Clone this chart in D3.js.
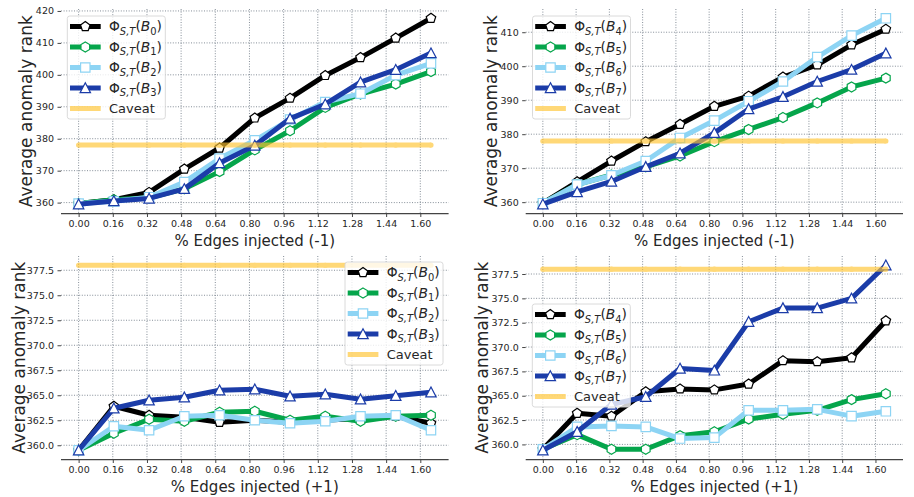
<!DOCTYPE html>
<html lang="en">
<head>
<meta charset="UTF-8">
<title>Average anomaly rank vs edges injected</title>
<style>
  body { margin: 0; background: #fff; }
  svg { display: block; font-family: "DejaVu Sans", sans-serif; }
</style>
</head>
<body>
<script src="https://d3js.org/d3.v7.min.js"></script>
<div id="chart"></div>
<script>
// x positions of the points and the tick labels
const xVals = [0.000, 0.165, 0.330, 0.495, 0.660, 0.825, 0.990, 1.155, 1.320, 1.485, 1.650];
const xTicks = [0.00, 0.16, 0.32, 0.48, 0.64, 0.80, 0.96, 1.12, 1.28, 1.44, 1.60];

// top-left, removing edges (-1)
const tlB0 = [359.7, 360.9, 363.2, 370.5, 377.1, 386.5, 392.7, 399.8, 405.4, 411.5, 417.7];
const tlB1 = [359.7, 360.9, 361.5, 364.3, 369.7, 376.5, 382.5, 389.8, 394.0, 397.1, 401.0];
const tlB2 = [359.7, 360.4, 361.7, 366.4, 373.8, 379.5, 386.0, 391.5, 394.1, 399.9, 403.6];
const tlB3 = [359.5, 360.5, 361.3, 364.3, 372.4, 377.9, 386.3, 390.8, 397.7, 401.6, 406.8];

// top-right
const trB4 = [359.7, 366.0, 372.1, 377.8, 382.9, 388.2, 391.2, 396.8, 400.4, 406.3, 410.9];
const trB5 = [359.7, 365.2, 368.0, 370.4, 373.6, 377.8, 381.4, 384.9, 389.2, 393.9, 396.5];
const trB6 = [359.7, 365.2, 367.9, 372.1, 378.9, 384.0, 389.7, 395.5, 402.7, 409.0, 414.1];
const trB7 = [359.4, 363.0, 366.1, 370.4, 374.4, 380.4, 387.4, 391.0, 395.5, 399.0, 403.8];

// bottom-left, adding edges (+1)
const blB0 = [359.5, 363.9, 363.0, 362.8, 362.3, 362.5, 362.3, 362.5, 362.7, 362.9, 362.2];
const blB1 = [359.5, 361.2, 362.6, 362.4, 363.3, 363.4, 362.5, 362.9, 362.4, 362.9, 363.0];
const blB2 = [359.5, 361.9, 361.5, 362.9, 363.0, 362.5, 362.2, 362.4, 362.9, 363.0, 361.5];
const blB3 = [359.5, 363.7, 364.5, 364.8, 365.5, 365.6, 364.9, 365.1, 364.6, 364.95, 365.3];

// bottom-right
const brB4 = [359.5, 363.2, 362.9, 365.4, 365.7, 365.6, 366.2, 368.6, 368.5, 368.9, 372.7];
const brB5 = [359.5, 361.0, 359.5, 359.5, 360.9, 361.3, 362.6, 363.1, 363.5, 364.6, 365.2];
const brB6 = [359.5, 361.8, 361.9, 361.8, 360.6, 360.7, 363.5, 363.5, 363.6, 362.9, 363.4];
const brB7 = [359.4, 361.3, 364.1, 364.9, 367.8, 367.6, 372.6, 374.0, 374.0, 375.0, 378.4];

const caveat = [378, 378, 378, 378, 378, 378, 378, 378, 378, 378, 378];

const yTicksTL = [360, 370, 380, 390, 400, 410, 420];
const yTicksTR = [360, 370, 380, 390, 400, 410];
const yTicksBottom = [360, 362.5, 365, 367.5, 370, 372.5, 375, 377.5];

const colors = { black: "#000000", green: "#05a54b", light: "#8dd4f4", blue: "#1b3ca8", caveat: "#ffc430" };

const svg = d3.select("#chart").append("svg")
    .attr("width", 914)
    .attr("height", 497);

// regular polygon marker, one vertex pointing up
function polygon(n, r) {
    const pts = d3.range(n).map(i => {
        const a = -Math.PI / 2 + i * 2 * Math.PI / n;
        return [r * Math.cos(a), r * Math.sin(a)];
    });
    return "M" + pts.map(p => p.join(",")).join("L") + "Z";
}
const markers = {
    pentagon: polygon(5, 5.0),
    hexagon: polygon(6, 5.0),
    square: "M-4.7,-4.7L4.7,-4.7L4.7,4.7L-4.7,4.7Z",
    triangle: "M0,-5.2L-5.2,4.6L5.2,4.6Z"
};

// Φ_{S,T}(B_k) as svg text
function mathLabel(sel, k) {
    sel.append("tspan").text("Φ");
    sel.append("tspan").attr("font-size", "72%").attr("font-style", "italic").attr("dy", 3.5).text("S,T");
    sel.append("tspan").attr("dy", -3.5).text("(");
    sel.append("tspan").attr("font-style", "italic").text("B");
    sel.append("tspan").attr("font-size", "72%").attr("dy", 3.5).text(k);
    sel.append("tspan").attr("dy", -3.5).text(")");
}

function drawPanel(p) {
    const x = d3.scaleLinear()
        .domain([-0.0825, 1.7325])
        .range([p.left, p.right]);

    const all = p.series.flatMap(s => s.values).concat(caveat);
    const ext = d3.extent(all);
    const pad = (ext[1] - ext[0]) * 0.05;
    const y = d3.scaleLinear()
        .domain([ext[0] - pad, ext[1] + pad])
        .range([p.bottom, p.top]);

    const g = svg.append("g");

    // grid
    g.append("g").selectAll("line").data(p.yTicks).enter().append("line")
        .attr("x1", p.left).attr("x2", p.right)
        .attr("y1", d => y(d)).attr("y2", d => y(d))
        .attr("stroke", "#66717d").attr("stroke-width", 0.8)
        .attr("stroke-dasharray", "1,1.6");
    g.append("g").selectAll("line").data(xTicks).enter().append("line")
        .attr("x1", d => x(d)).attr("x2", d => x(d))
        .attr("y1", p.top).attr("y2", p.bottom)
        .attr("stroke", "#66717d").attr("stroke-width", 0.8)
        .attr("stroke-dasharray", "1,1.6");

    // axes
    const xAxis = g.append("g")
        .attr("transform", `translate(0,${p.bottom})`)
        .call(d3.axisBottom(x).tickValues(xTicks).tickFormat(d3.format(".2f")).tickSize(3.5).tickPadding(3));
    xAxis.select(".domain").attr("d", `M${p.left},0H${p.right}`).attr("stroke", "#444").attr("stroke-width", 1.25);
    xAxis.selectAll(".tick line").attr("stroke", "#444");
    xAxis.selectAll("text").attr("font-size", 9.5).attr("fill", "#262626").attr("font-family", "DejaVu Sans");

    const yAxis = g.append("g")
        .attr("transform", `translate(${p.left},0)`)
        .call(d3.axisLeft(y).tickValues(p.yTicks).tickFormat(d3.format(p.yFmt)).tickSize(3.5).tickPadding(3.5));
    yAxis.select(".domain").remove();
    yAxis.selectAll(".tick line").attr("stroke", "#444");
    yAxis.selectAll("text").attr("font-size", 9.5).attr("fill", "#262626").attr("font-family", "DejaVu Sans");

    // axis titles
    g.append("text")
        .attr("transform", `translate(${p.ylabelX},${(p.top + p.bottom) / 2}) rotate(-90)`)
        .attr("text-anchor", "middle")
        .attr("font-size", 17)
        .attr("fill", "#262626")
        .text("Average anomaly rank");
    g.append("text")
        .attr("x", (p.left + p.right) / 2)
        .attr("y", p.bottom + 32)
        .attr("text-anchor", "middle")
        .attr("font-size", 15)
        .attr("fill", "#262626")
        .text(p.xlabel);

    const line = d3.line()
        .x((d, i) => x(xVals[i]))
        .y(d => y(d));

    p.series.forEach(s => {
        g.append("path")
            .datum(s.values)
            .attr("d", line)
            .attr("fill", "none")
            .attr("stroke", s.color)
            .attr("stroke-width", 5)
            .attr("stroke-linejoin", "round");
        g.append("g").selectAll("path").data(s.values).enter().append("path")
            .attr("d", markers[s.marker])
            .attr("transform", (d, i) => `translate(${x(xVals[i])},${y(d)})`)
            .attr("fill", "#fff")
            .attr("stroke", s.color)
            .attr("stroke-width", 1.2);
    });

    // caveat line
    const cv = g.append("g").attr("opacity", 0.65);
    cv.append("path")
        .datum(caveat)
        .attr("d", line)
        .attr("fill", "none")
        .attr("stroke", colors.caveat)
        .attr("stroke-width", 5);
    cv.selectAll("circle").data(caveat).enter().append("circle")
        .attr("cx", (d, i) => x(xVals[i]))
        .attr("cy", d => y(d))
        .attr("r", 2.6)
        .attr("fill", colors.caveat);

    // legend
    const lg = g.append("g").attr("transform", `translate(${p.legendX},${p.legendY})`);
    lg.append("rect")
        .attr("width", 98).attr("height", 103)
        .attr("rx", 2.5)
        .attr("fill", "#fff").attr("fill-opacity", 0.8)
        .attr("stroke", "#d6d6d6").attr("stroke-width", 0.9);

    p.series.forEach((s, i) => {
        const ry = 10.5 + i * 20.5;
        lg.append("line")
            .attr("x1", 2.7).attr("x2", 33.4)
            .attr("y1", ry).attr("y2", ry)
            .attr("stroke", s.color).attr("stroke-width", 5);
        lg.append("path")
            .attr("d", markers[s.marker])
            .attr("transform", `translate(18,${ry})`)
            .attr("fill", "#fff").attr("stroke", s.color).attr("stroke-width", 1.2);
        const t = lg.append("text")
            .attr("x", 41.7).attr("y", ry)
            .attr("dy", "0.35em")
            .attr("font-size", 13.8)
            .attr("fill", "#262626");
        mathLabel(t, s.k);
    });
    const cy = 10.5 + 4 * 20.5;
    const cg = lg.append("g").attr("opacity", 0.65);
    cg.append("line")
        .attr("x1", 2.7).attr("x2", 33.4)
        .attr("y1", cy).attr("y2", cy)
        .attr("stroke", colors.caveat).attr("stroke-width", 5);
    cg.append("circle").attr("cx", 18).attr("cy", cy).attr("r", 2.6).attr("fill", colors.caveat);
    lg.append("text")
        .attr("x", 41.7).attr("y", cy)
        .attr("dy", "0.35em")
        .attr("font-size", 13)
        .attr("fill", "#262626")
        .text("Caveat");
}

function seriesSet(vals, ks) {
    const cols = [colors.black, colors.green, colors.light, colors.blue];
    const mks = ["pentagon", "hexagon", "square", "triangle"];
    return vals.map((v, i) => ({ values: v, color: cols[i], marker: mks[i], k: ks[i] }));
}

drawPanel({
    left: 61, right: 448.6, top: 9, bottom: 213.5,
    series: seriesSet([tlB0, tlB1, tlB2, tlB3], ["0", "1", "2", "3"]),
    yTicks: yTicksTL, yFmt: "d", ylabelX: 32,
    xlabel: "% Edges injected (-1)",
    legendX: 67.3, legendY: 16
});
drawPanel({
    left: 525.7, right: 903, top: 9, bottom: 213.5,
    series: seriesSet([trB4, trB5, trB6, trB7], ["4", "5", "6", "7"]),
    yTicks: yTicksTR, yFmt: "d", ylabelX: 497,
    xlabel: "% Edges injected (-1)",
    legendX: 532.5, legendY: 16
});
drawPanel({
    left: 61, right: 448.6, top: 256, bottom: 459.5,
    series: seriesSet([blB0, blB1, blB2, blB3], ["0", "1", "2", "3"]),
    yTicks: yTicksBottom, yFmt: ".1f", ylabelX: 25,
    xlabel: "% Edges injected (+1)",
    legendX: 345, legendY: 262
});
drawPanel({
    left: 525.7, right: 903, top: 256, bottom: 459.5,
    series: seriesSet([brB4, brB5, brB6, brB7], ["4", "5", "6", "7"]),
    yTicks: yTicksBottom, yFmt: ".1f", ylabelX: 488,
    xlabel: "% Edges injected (+1)",
    legendX: 532.3, legendY: 304
});
</script>
</body>
</html>
